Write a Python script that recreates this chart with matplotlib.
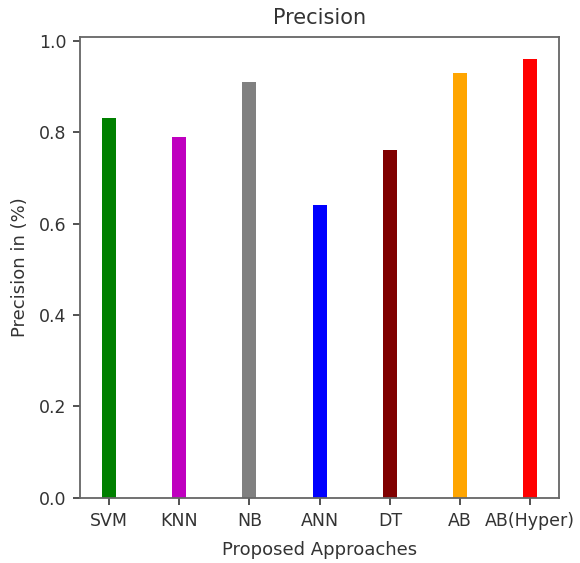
import matplotlib
matplotlib.use("Agg")
import matplotlib.pyplot as plt

approaches = ["SVM", "KNN", "NB", "ANN", "DT", "AB", "AB(Hyper)"]
precision = [0.83, 0.79, 0.91, 0.64, 0.76, 0.93, 0.96]
bar_colors = ["green", "m", "gray", "blue", "maroon", "orange", "red"]

txt = "#333333"
plt.rcParams["font.family"] = "DejaVu Sans"

fig = plt.figure(figsize=(5.8, 5.63), dpi=100)
ax = fig.add_axes([0.138, 0.1155, 0.826, 0.819])

ax.bar(approaches, precision, color=bar_colors, width=0.2)

ax.set_title("Precision", fontsize=15, color=txt, pad=9)
ax.set_xlabel("Proposed Approaches", fontsize=13, color=txt, labelpad=8)
ax.set_ylabel("Precision in (%)", fontsize=13, color=txt, labelpad=7)
ax.tick_params(labelsize=12.5, colors=txt, length=5, width=1.2, pad=5)
for s in ax.spines.values():
    s.set_color("#666666")
    s.set_linewidth(1.3)
for t in ax.get_xticklines() + ax.get_yticklines():
    t.set_color("#666666")

plt.savefig("out.png", dpi=100)
